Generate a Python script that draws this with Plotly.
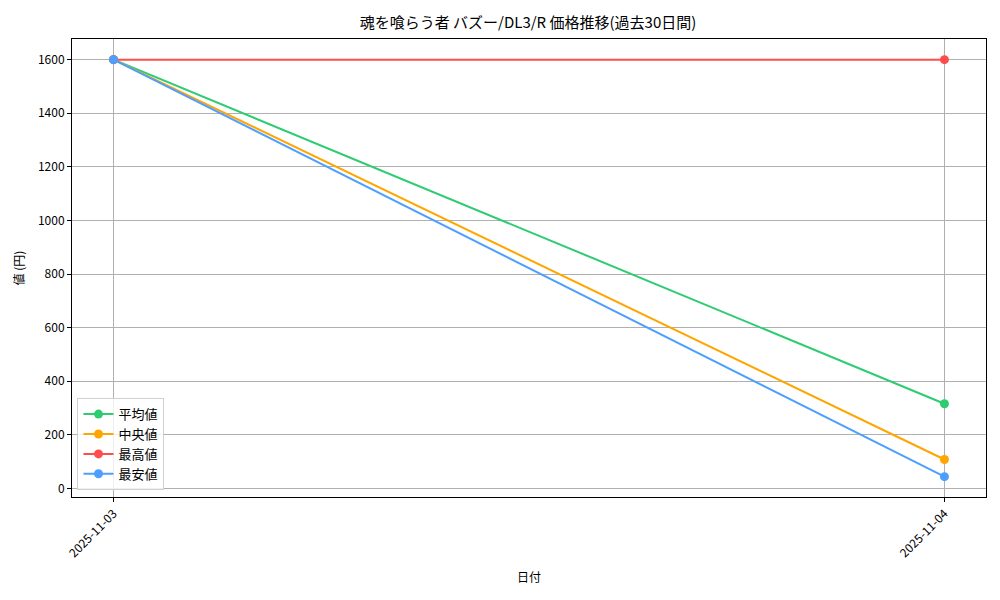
import plotly.graph_objects as go

dates = ["2025-11-03", "2025-11-04"]
avg_vals = [1600, 316]
med_vals = [1600, 108]
max_vals = [1600, 1600]
min_vals = [1600, 44]
series_names = ["平均値", "中央値", "最高値", "最安値"]
colors = ["#2ecc71", "#ffa500", "#ff4d4d", "#4d9fff"]
y_ticks = [0, 200, 400, 600, 800, 1000, 1200, 1400, 1600]

FONT = "Noto Sans CJK JP, IPAGothic, sans-serif"

fig = go.Figure()
for name, vals, col in zip(series_names, [avg_vals, med_vals, max_vals, min_vals], colors):
    fig.add_trace(go.Scatter(
        x=dates, y=vals, name=name, mode="lines+markers",
        line=dict(color=col, width=2),
        marker=dict(color=col, size=9),
    ))

# page body adds an 8px offset, so margins are compensated
fig.update_layout(
    width=1000, height=600,
    paper_bgcolor="white", plot_bgcolor="white",
    margin=dict(l=64, r=22, t=31, b=111, autoexpand=False),
    font=dict(family=FONT, size=12, color="black"),
    title=dict(text="魂を喰らう者 バズー/DL3/R 価格推移(過去30日間)", x=(528 - 8) / 1000, xanchor="center",
               y=1 - 15 / 600, yanchor="middle", font=dict(size=15, family=FONT)),
    showlegend=True,
    legend=dict(x=0.006, y=0.015, xanchor="left", yanchor="bottom",
                bordercolor="#d0d0d0", borderwidth=1, bgcolor="rgba(255,255,255,0.8)",
                font=dict(size=13, family=FONT), tracegroupgap=0),
)
fig.update_xaxes(
    type="category", range=[-0.05, 1.05], automargin=False,
    showgrid=True, gridcolor="#b0b0b0", gridwidth=1,
    showline=True, linecolor="black", linewidth=1, mirror=True,
    ticks="outside", ticklen=4, tickcolor="black",
    tickangle=-45,
    title=dict(text="日付", font=dict(size=12, family=FONT), standoff=14),
    zeroline=False,
)
fig.update_yaxes(
    range=[-32, 1677], tickvals=y_ticks, automargin=False,
    showgrid=True, gridcolor="#b0b0b0", gridwidth=1,
    showline=True, linecolor="black", linewidth=1, mirror=True,
    ticks="outside", ticklen=4, tickcolor="black",
    title=dict(text="値 (円)", font=dict(size=12, family=FONT), standoff=10),
    zeroline=False,
)

fig.write_html("out.html")
